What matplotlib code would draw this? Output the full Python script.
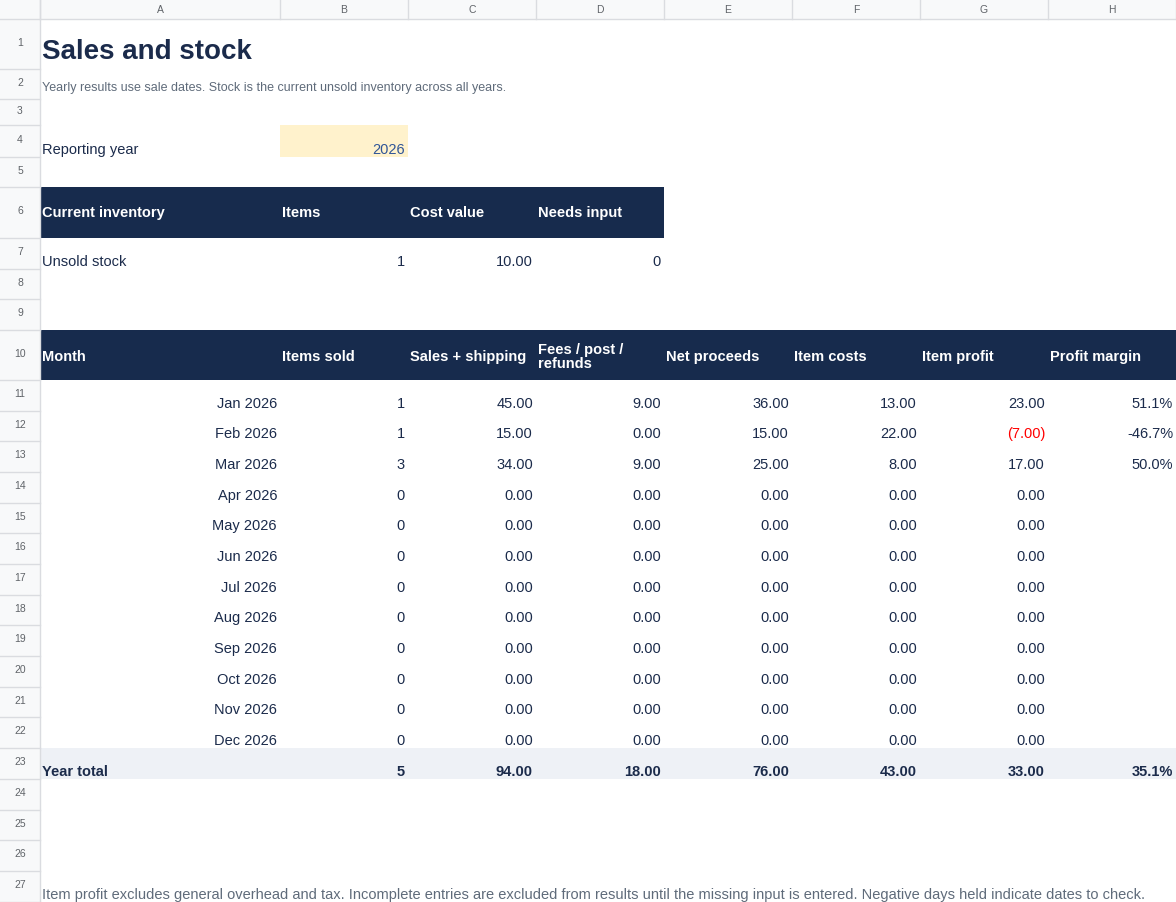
import matplotlib
matplotlib.use("Agg")
import matplotlib.pyplot as plt
from matplotlib.patches import Rectangle

plt.rcParams['font.family'] = ['Liberation Sans', 'DejaVu Sans']

col_letters = ["A", "B", "C", "D", "E", "F", "G", "H"]
months = ["Jan 2026", "Feb 2026", "Mar 2026", "Apr 2026", "May 2026", "Jun 2026",
          "Jul 2026", "Aug 2026", "Sep 2026", "Oct 2026", "Nov 2026", "Dec 2026"]
items_sold = [1, 1, 3, 0, 0, 0, 0, 0, 0, 0, 0, 0]
sales = [45.0, 15.0, 34.0, 0, 0, 0, 0, 0, 0, 0, 0, 0]
fees = [9.0, 0.0, 9.0, 0, 0, 0, 0, 0, 0, 0, 0, 0]
net = [36.0, 15.0, 25.0, 0, 0, 0, 0, 0, 0, 0, 0, 0]
costs = [13.0, 22.0, 8.0, 0, 0, 0, 0, 0, 0, 0, 0, 0]
profit = [23.0, -7.0, 17.0, 0, 0, 0, 0, 0, 0, 0, 0, 0]
margin = ["51.1%", "-46.7%", "50.0%", "", "", "", "", "", "", "", "", ""]
table_headers = ["Month", "Items sold", "Sales + shipping", "Fees / post /\nrefunds",
                 "Net proceeds", "Item costs", "Item profit", "Profit margin"]
inv_headers = ["Current inventory", "Items", "Cost value", "Needs input"]
inv_values = ["Unsold stock", "1", "10.00", "0"]
totals = ["Year total", "5", "94.00", "18.00", "76.00", "43.00", "33.00", "35.1%"]

W, H = 1176, 903
fig = plt.figure(figsize=(W / 100, H / 100), dpi=100)
ax = fig.add_axes([0, 0, 1, 1])
ax.set_xlim(0, W); ax.set_ylim(H, 0); ax.axis('off')

cols = [40, 280, 408, 536, 664, 792, 920, 1048, 1176]
rows = [20, 70, 100, 126, 158, 188, 239, 270, 300, 331, 381, 412, 442, 473, 504,
        534, 565, 596, 626, 657, 688, 718, 749, 780, 811, 841, 872, 903]
NAVY = "#172b4d"; TXT = "#1b2b4b"; GRID = "#dadce0"; HDRBG = "#f8f9fa"

# headers background
ax.add_patch(Rectangle((0, 0), W, 20, fc=HDRBG, ec='none'))
ax.add_patch(Rectangle((0, 0), 40, H, fc=HDRBG, ec='none'))
for i, c in enumerate(cols):
    ax.plot([c, c], [0, 20], color=GRID, lw=1)
for i, l in enumerate(col_letters):
    ax.text((cols[i] + cols[i + 1]) / 2, 10, l, ha='center', va='center', fontsize=7.5, color='#5f6368')
ax.plot([40, 40], [0, H], color=GRID, lw=1)
ax.plot([0, W], [20, 20], color=GRID, lw=1)
for r in range(27):
    ax.plot([0, 40], [rows[r + 1], rows[r + 1]], color=GRID, lw=1)
    ax.text(20, (rows[r] + rows[r + 1]) / 2 - 2, str(r + 1), ha='center', va='center', fontsize=7.5, color='#5f6368')

def cell_text(ci, ri, s, align='right', va='base', **kw):
    kw.setdefault('fontsize', 10.5); kw.setdefault('color', TXT)
    if align == 'right':
        x = cols[ci + 1] - 3
    else:
        x = cols[ci] + 2
    if va == 'base':
        ax.text(x, rows[ri] - 4, s, ha=align, va='baseline', **kw)
    else:
        ax.text(x, (rows[ri - 1] + rows[ri]) / 2, s, ha=align, va='center', **kw)

# title
ax.text(42, 59, "Sales and stock", fontsize=20, fontweight='bold', color=TXT, va='baseline')
ax.text(42, 91, "Yearly results use sale dates. Stock is the current unsold inventory across all years.",
        fontsize=9, color='#5f6b7a', va='baseline')

# reporting year
cell_text(0, 4, "Reporting year", align='left')
ax.add_patch(Rectangle((cols[1], rows[3]), cols[2] - cols[1], rows[4] - rows[3], fc='#fff2cc', ec='none'))
cell_text(1, 4, "2026", color='#2f5597')

# inventory
ax.add_patch(Rectangle((cols[0], rows[5]), cols[4] - cols[0], rows[6] - rows[5], fc=NAVY, ec='none'))
for i, h in enumerate(inv_headers):
    cell_text(i, 6, h, align='left', va='center', color='white', fontweight='bold')
for i, v in enumerate(inv_values):
    cell_text(i, 7, v, align='left' if i == 0 else 'right')

# monthly table
ax.add_patch(Rectangle((cols[0], rows[9]), cols[8] - cols[0], rows[10] - rows[9], fc=NAVY, ec='none'))
for i, h in enumerate(table_headers):
    ax.text(cols[i] + 2, (rows[9] + rows[10]) / 2 + 1, h, ha='left', va='center', color='white',
            fontweight='bold', fontsize=10.5, linespacing=0.95)

def fmt(v):
    return f"({abs(v):.2f})" if v < 0 else f"{v:.2f}"

for k in range(12):
    ri = 11 + k
    cell_text(0, ri, months[k])
    cell_text(1, ri, str(items_sold[k]))
    cell_text(2, ri, fmt(sales[k]))
    cell_text(3, ri, fmt(fees[k]))
    cell_text(4, ri, fmt(net[k]))
    cell_text(5, ri, fmt(costs[k]))
    cell_text(6, ri, fmt(profit[k]), color='red' if profit[k] < 0 else TXT)
    cell_text(7, ri, margin[k])

ax.add_patch(Rectangle((cols[0], rows[22]), cols[8] - cols[0], rows[23] - rows[22], fc='#eef1f6', ec='none'))
for i, v in enumerate(totals):
    cell_text(i, 23, v, align='left' if i == 0 else 'right', fontweight='bold')

ax.text(42, rows[27] - 4, "Item profit excludes general overhead and tax. Incomplete entries are excluded from results until the missing input is entered. Negative days held indicate dates to check.",
        fontsize=10.5, color='#5f6b7a', va='baseline')

fig.savefig("out.png", dpi=100)
